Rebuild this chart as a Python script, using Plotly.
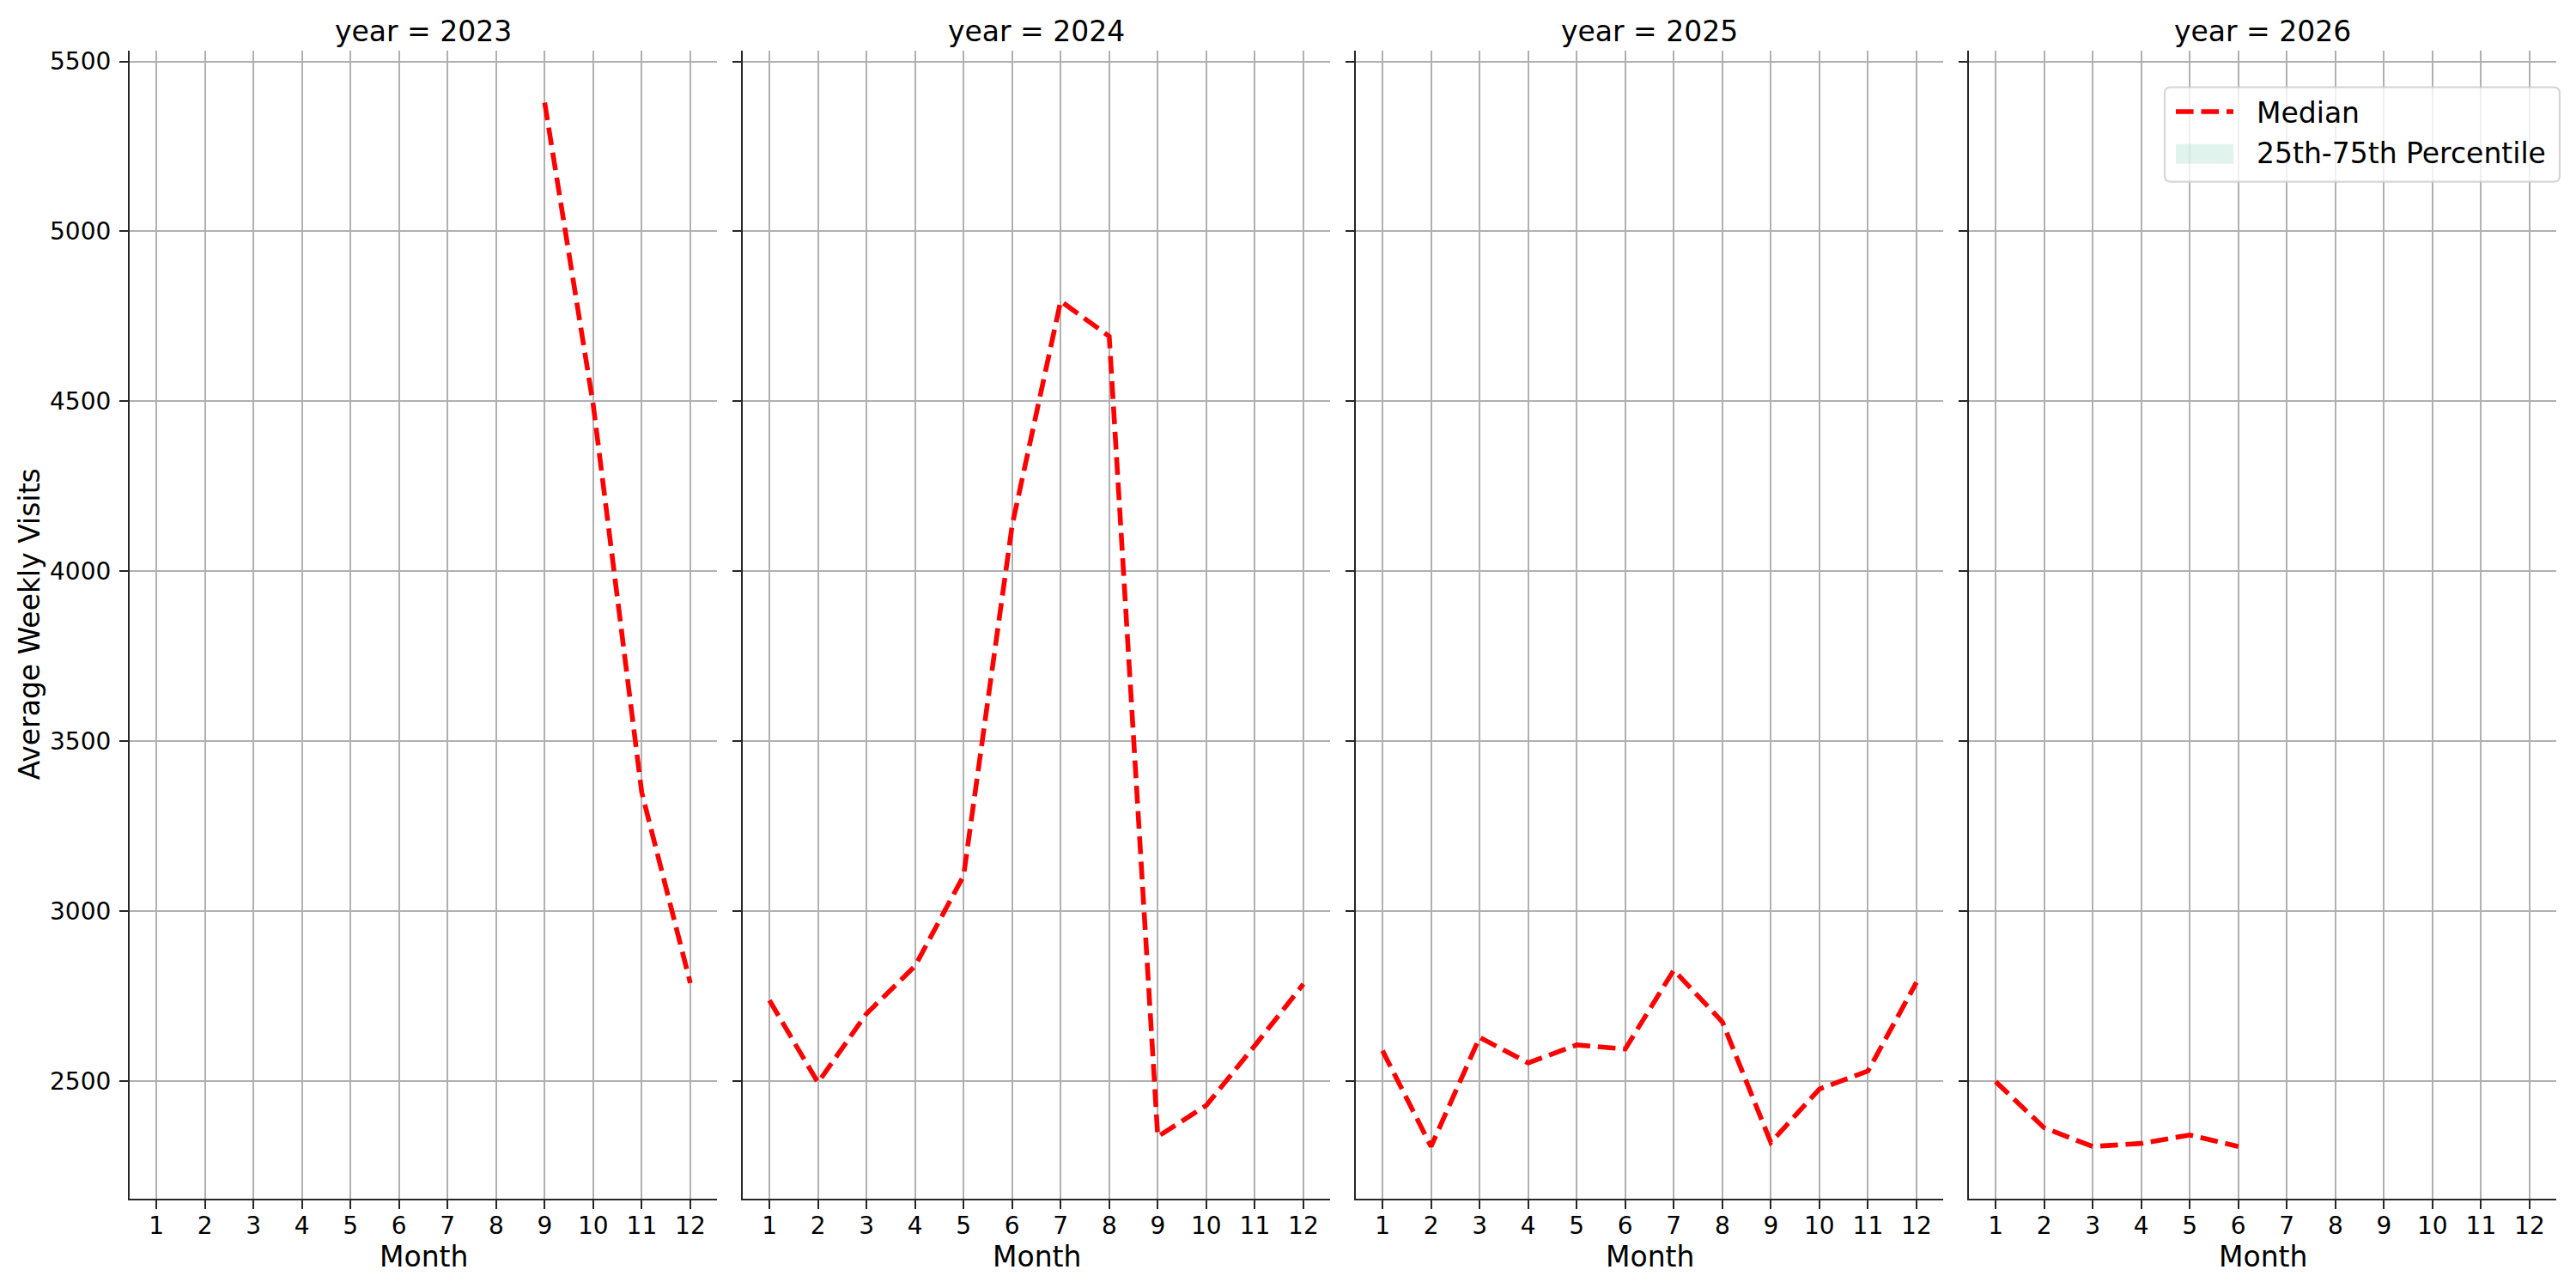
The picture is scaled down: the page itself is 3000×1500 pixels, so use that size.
import plotly.graph_objects as go

# ---- data ----
years = [2023, 2024, 2025, 2026]

months_2023 = [9, 10, 11, 12]
median_2023 = [5379, 4490, 3349, 2788]

months_2024 = [1, 2, 3, 4, 5, 6, 7, 8, 9, 10, 11, 12]
median_2024 = [2737, 2495, 2698, 2838, 3104, 4135, 4795, 4691, 2336, 2428, 2604, 2785]

months_2025 = [1, 2, 3, 4, 5, 6, 7, 8, 9, 10, 11, 12]
median_2025 = [2589, 2307, 2628, 2553, 2606, 2594, 2826, 2674, 2319, 2476, 2529, 2790]

months_2026 = [1, 2, 3, 4, 5, 6]
median_2026 = [2498, 2362, 2307, 2316, 2341, 2307]

month_ticks = [1, 2, 3, 4, 5, 6, 7, 8, 9, 10, 11, 12]
y_ticks = [2500, 3000, 3500, 4000, 4500, 5000, 5500]
legend_labels = ["Median", "25th-75th Percentile"]

series = [
    (months_2023, median_2023),
    (months_2024, median_2024),
    (months_2025, median_2025),
    (months_2026, median_2026),
]

# ---- styling ----
FONT = "DejaVu Sans"
W, H = 3000, 1500
RED = "red"
GRID = "#b0b0b0"
SPINE = "#262626"
LW = 5.6
DASH = "20.6px,8.9px"
BAND = "rgba(102,194,165,0.2)"

x_domains = [
    (151 / W, 835 / W),
    (865 / W, 1549 / W),
    (1579 / W, 2263 / W),
    (2293 / W, 2977 / W),
]
y_domain = (1 - 1396 / H, 1 - 58.7 / H)

all_vals = median_2023 + median_2024 + median_2025 + median_2026
vmin, vmax = min(all_vals), max(all_vals)
pad = 0.05 * (vmax - vmin)
y_range = [vmin - pad, vmax + pad]
x_range = [1 - 0.05 * 11, 12 + 0.05 * 11]

fig = go.Figure()

for i, (xs, ys) in enumerate(series):
    sfx = "" if i == 0 else str(i + 1)
    fig.add_trace(go.Scatter(
        x=xs, y=ys, mode="lines",
        line=dict(color=RED, width=LW, dash=DASH),
        name=legend_labels[0], showlegend=False,
        xaxis="x" + sfx, yaxis="y" + sfx,
    ))

layout = dict(
    width=W, height=H,
    margin=dict(l=0, r=0, t=0, b=0),
    paper_bgcolor="white", plot_bgcolor="white",
    font=dict(family=FONT, size=28, color="black"),
    showlegend=False,
    annotations=[],
    shapes=[],
)

for i in range(4):
    sfx = "" if i == 0 else str(i + 1)
    layout["xaxis" + sfx] = dict(
        domain=list(x_domains[i]), range=x_range, anchor="y" + sfx,
        tickmode="array", tickvals=month_ticks, ticktext=[str(m) for m in month_ticks],
        showgrid=True, gridcolor=GRID, gridwidth=2.2,
        showline=True, linecolor=SPINE, linewidth=2.2,
        ticks="outside", ticklen=10, tickwidth=2.2, tickcolor=SPINE,
        ticklabelstandoff=-5,
        tickfont=dict(family=FONT, size=28, color="black"),
        zeroline=False, automargin=False, fixedrange=True,
    )
    layout["yaxis" + sfx] = dict(
        domain=list(y_domain), range=y_range, anchor="x" + sfx,
        tickmode="array", tickvals=y_ticks, ticktext=[str(v) for v in y_ticks],
        showticklabels=(i == 0),
        showgrid=True, gridcolor=GRID, gridwidth=2.2,
        showline=True, linecolor=SPINE, linewidth=2.2,
        ticks="outside", ticklen=10, tickwidth=2.2, tickcolor=SPINE,
        ticklabelstandoff=4,
        tickfont=dict(family=FONT, size=28, color="black"),
        zeroline=False, automargin=False, fixedrange=True,
    )
    cx = (x_domains[i][0] + x_domains[i][1]) / 2
    layout["annotations"].append(dict(
        text=f"year = {years[i]}", x=cx, y=1 - 37 / H, xref="paper", yref="paper",
        xanchor="center", yanchor="middle", showarrow=False,
        font=dict(family=FONT, size=33, color="black"),
    ))
    layout["annotations"].append(dict(
        text="Month", x=cx, y=1 - 1463 / H, xref="paper", yref="paper",
        xanchor="center", yanchor="middle", showarrow=False,
        font=dict(family=FONT, size=33, color="black"),
    ))

layout["annotations"].append(dict(
    text="Average Weekly Visits", x=34 / W, y=(y_domain[0] + y_domain[1]) / 2,
    xref="paper", yref="paper", xanchor="center", yanchor="middle",
    textangle=-90, showarrow=False,
    font=dict(family=FONT, size=33, color="black"),
))

# ---- legend (top-right of last panel) ----
lx0, lx1, ly0, ly1 = 2521, 2981, 101.7, 211.7
r = 7
def px(x):
    return x / W
def py(y):
    return 1 - y / H

path = (
    f"M{px(lx0 + r)},{py(ly0)} L{px(lx1 - r)},{py(ly0)} "
    f"Q{px(lx1)},{py(ly0)} {px(lx1)},{py(ly0 + r)} "
    f"L{px(lx1)},{py(ly1 - r)} Q{px(lx1)},{py(ly1)} {px(lx1 - r)},{py(ly1)} "
    f"L{px(lx0 + r)},{py(ly1)} Q{px(lx0)},{py(ly1)} {px(lx0)},{py(ly1 - r)} "
    f"L{px(lx0)},{py(ly0 + r)} Q{px(lx0)},{py(ly0)} {px(lx0 + r)},{py(ly0)} Z"
)
layout["shapes"].append(dict(
    type="path", path=path, xref="paper", yref="paper",
    fillcolor="rgba(255,255,255,0.8)", line=dict(color="rgba(204,204,204,0.8)", width=2.2),
    layer="above",
))
layout["shapes"].append(dict(
    type="line", xref="paper", yref="paper",
    x0=px(2534), x1=px(2601), y0=py(130), y1=py(130),
    line=dict(color=RED, width=LW, dash=DASH), layer="above",
))
layout["shapes"].append(dict(
    type="rect", xref="paper", yref="paper",
    x0=px(2534), x1=px(2601), y0=py(167.7), y1=py(190.7),
    fillcolor=BAND, line=dict(width=0), layer="above",
))
for label, yc in zip(legend_labels, [131, 178.5]):
    layout["annotations"].append(dict(
        text=label, x=px(2626), y=py(yc), xref="paper", yref="paper",
        xanchor="left", yanchor="middle", showarrow=False,
        font=dict(family=FONT, size=33, color="black"),
    ))

fig.update_layout(**layout)
fig.write_html("out.html")
